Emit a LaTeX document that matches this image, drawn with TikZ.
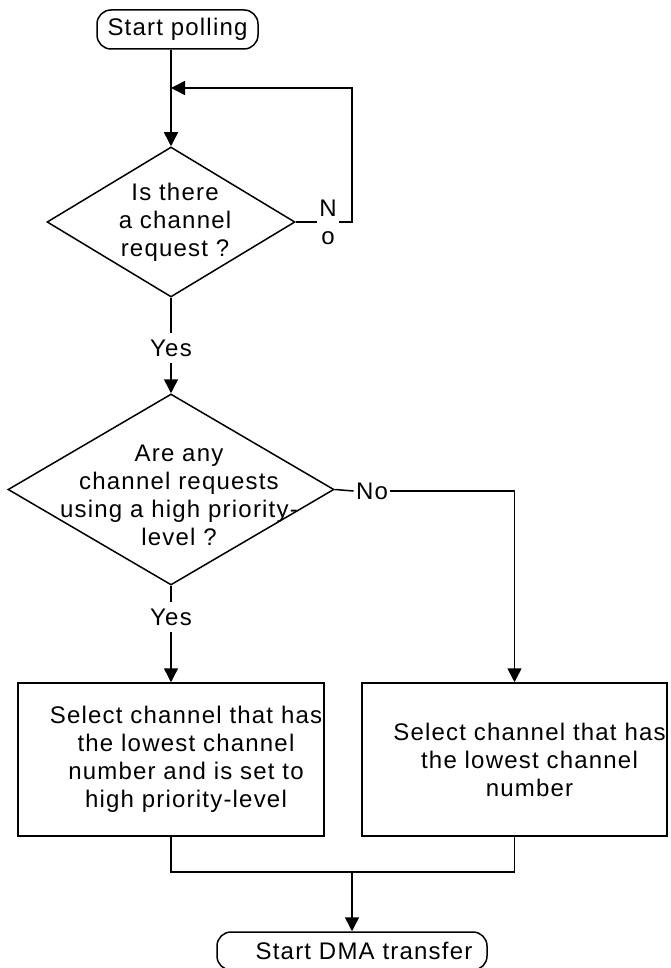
\documentclass[tikz,border=0pt]{standalone}
\usepackage{fontspec}
\setmainfont{Liberation Sans}[LetterSpace=5.0]
\usetikzlibrary{shapes.geometric, arrows.meta}

\begin{document}
\begin{tikzpicture}[
        x=0.5pt, y=-0.5pt,
        every node/.append style={font=\fontsize{12pt}{14pt}\selectfont, align=center},
        terminal/.style={draw, rounded corners=7pt, line width=0.75pt, minimum height=19.5pt, inner sep=0pt},
        decision/.style={draw, diamond, line width=0.75pt, inner sep=0pt},
        process/.style={draw, rectangle, line width=0.75pt, minimum width=153pt, minimum height=76.5pt, inner sep=0pt},
        lbl/.style={inner xsep=1pt, inner ysep=3pt},
        line/.style={line width=0.75pt},
        arrow/.style={line, -{Triangle[width=7pt,length=7pt]}}
    ]
        \useasboundingbox (0,0) rectangle (670,968);
        \node[terminal, minimum width=80.5pt] (start) at (177.5,29.5) {Start polling};
        \node[decision, minimum width=124pt, minimum height=75pt] (askReq) at (171,222) {};
        \node at ([xshift=2pt]askReq.center) {Is there\\a channel\\request ?};
        \node[lbl] (noA) at (328,222) {N\\o};
        \node[lbl] (yesA) at (171,348) {Yes};
        \node[decision, minimum width=163pt, minimum height=95.5pt] (askHigh) at (171,489.5) {};
        \node at ([xshift=4pt, yshift=-2.75pt]askHigh.center) {Are any\\channel requests\\using a high priority-\\level ?};
        \node[lbl] (noB) at (372,491) {No};
        \node[lbl] (yesB) at (171,617) {Yes};
        \node[process] (selHigh) at (171,759.5) {};
        \node at ([xshift=7.5pt]selHigh.center) {Select channel that has\\the lowest channel\\number and is set to\\high priority-level};
        \node[process, minimum width=152.5pt] (selLow) at (514.5,759.5) {};
        \node at ([xshift=7.5pt]selLow.center) {Select channel that has\\the lowest channel\\number};
        \node[terminal, minimum width=135pt, minimum height=19pt] (finish) at (352,951) {\hspace*{12pt}Start DMA transfer};
        \coordinate (loopTop) at (352,88);
        \coordinate (loopJoin) at (171,88);
        \coordinate (merge) at (352,872);
        \draw[arrow] (askReq.north |- start.south) -- (askReq.north);
        \draw[line] (askReq.east) -- (noA.west);
        \draw[arrow] (noA.east) -| (loopTop) -- (loopJoin);
        \draw[line] (askReq.south) -- (yesA.north);
        \draw[arrow] (yesA.south) -- (askHigh.north);
        \draw[line] (askHigh.east) -- (noB.west);
        \draw[arrow] (noB.east) -| (selLow.north);
        \draw[line] (askHigh.south) -- (yesB.north);
        \draw[arrow] (yesB.south) -- (selHigh.north);
        \draw[line] (selHigh.south) |- (merge) -| (selLow.south);
        \draw[arrow] (merge) -- (finish.north);
    \end{tikzpicture}
\end{document}
